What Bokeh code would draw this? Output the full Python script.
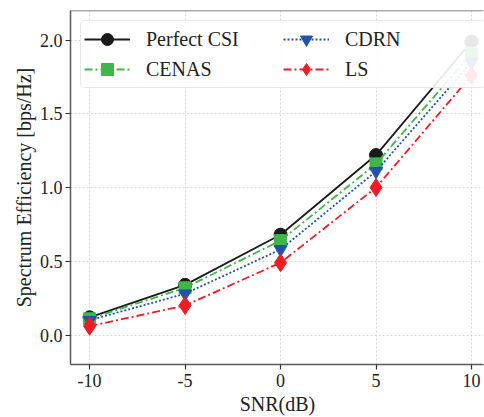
from bokeh.plotting import figure
from bokeh.models import FixedTicker, Legend, LegendItem, Range1d, Span
from bokeh.embed import file_html
from bokeh.resources import INLINE

snr = [-10, -5, 0, 5, 10]
perfect_csi = [0.12, 0.34, 0.68, 1.22, 1.99]
cenas = [0.11, 0.32, 0.64, 1.16, 1.91]
cdrn = [0.10, 0.28, 0.58, 1.11, 1.85]
ls = [0.06, 0.20, 0.49, 1.00, 1.76]

x_ticks = [-10, -5, 0, 5, 10]
x_tick_labels = ["-10", "-5", "0", "5", "10"]
y_ticks = [0.0, 0.5, 1.0, 1.5, 2.0]
y_tick_labels = ["0.0", "0.5", "1.0", "1.5", "2.0"]

FONT = "Liberation Serif"
SPINE = "#5a5a5a"

p = figure(width=484, height=417, output_backend="svg", toolbar_location=None,
           x_range=Range1d(-11.0, 10.68), y_range=Range1d(-0.2, 2.2),
           min_border_left=70, min_border_right=0, min_border_top=10, min_border_bottom=47)
p.outline_line_color = None
p.background_fill_color = "white"
p.border_fill_color = "white"

for ax in (p.xaxis[0], p.yaxis[0]):
    ax.axis_line_color = SPINE
    ax.axis_line_width = 1.5
    ax.major_tick_line_color = "#333333"
    ax.major_tick_line_width = 1.2
    ax.major_tick_out = 5
    ax.major_tick_in = 0
    ax.minor_tick_line_color = None
    ax.major_label_text_font = FONT
    ax.major_label_text_font_size = "18px"
    ax.major_label_text_color = "#222222"
    ax.axis_label_text_font = FONT
    ax.axis_label_text_font_size = "20px"
    ax.axis_label_text_font_style = "normal"
    ax.axis_label_text_color = "#222222"

p.xaxis[0].ticker = FixedTicker(ticks=x_ticks)
p.xaxis[0].major_label_overrides = dict(zip(x_ticks, x_tick_labels))
p.yaxis[0].ticker = FixedTicker(ticks=y_ticks)
p.yaxis[0].major_label_overrides = {t: l for t, l in zip(y_ticks, y_tick_labels)}
p.xaxis[0].axis_label = "SNR(dB)"
p.yaxis[0].axis_label = "Spectrum Efficiency [bps/Hz]"
p.xaxis[0].major_label_standoff = 4
p.xaxis[0].axis_label_standoff = 3
p.yaxis[0].major_label_standoff = 3
p.yaxis[0].axis_label_standoff = 2

# top spine at the upper end of the y range; mask at the (cropped) right edge
p.add_layout(Span(location=p.y_range.end, dimension="width", line_color=SPINE, line_width=1.5))
p.add_layout(Span(location=p.x_range.end, dimension="height", line_color="white",
                  line_width=4, level="overlay"))

p.xgrid.ticker = FixedTicker(ticks=x_ticks)
p.ygrid.ticker = FixedTicker(ticks=y_ticks)
for g in (p.xgrid[0], p.ygrid[0]):
    g.grid_line_color = "#cfcfcf"
    g.grid_line_dash = "2 2"
    g.grid_line_width = 0.8

series = [
    ("Perfect CSI", perfect_csi, "#1a1a1a", "solid", "circle", 13),
    ("CENAS", cenas, "#3fb54a", "8 3 2 3", "square", 12),
    ("CDRN", cdrn, "#2153a8", "2 2", "inverted_triangle", 13),
    ("LS", ls, "#ee1d25", "8 3 2 3", "diamond", 18),
]

items = []
for name, ys, color, dash, marker, size in series:
    l = p.line(snr, ys, line_color=color, line_width=1.8, line_dash=dash)
    m = p.scatter(snr, ys, marker=marker, size=size, fill_color=color, line_color=color)
    items.append(LegendItem(label=name, renderers=[l, m]))

legend = Legend(items=items, ncols=2, location="top_left")
legend.margin = 10
legend.padding = 3
legend.spacing = 0
legend.glyph_width = 46
legend.glyph_height = 30
legend.label_standoff = 16
legend.label_width = 137
legend.label_text_font = FONT
legend.label_text_font_size = "20px"
legend.label_text_color = "#222222"
legend.border_line_color = "#d0d0d0"
legend.border_line_width = 1
legend.border_radius = 5
legend.background_fill_alpha = 0.9
p.add_layout(legend, "center")

open("out.html", "w").write(file_html(p, INLINE))
